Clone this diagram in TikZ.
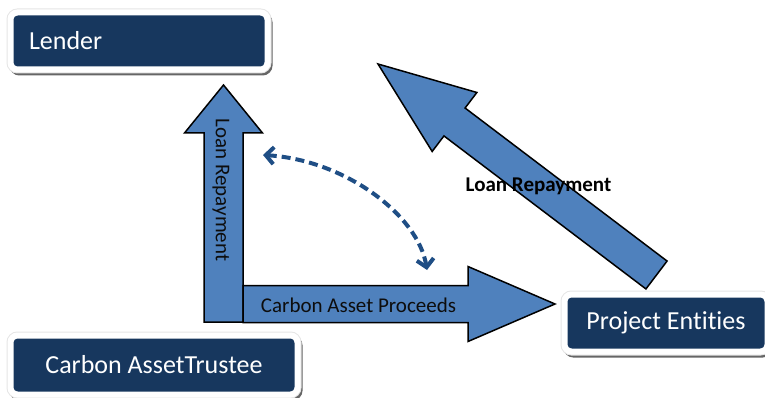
\documentclass[tikz,border=0pt]{standalone}
\usepackage{fontspec}
\setmainfont{Carlito}[Ligatures={NoCommon,NoRare}]
\usepackage{tikz}
\usetikzlibrary{arrows.meta, calc}

\definecolor{boxnavy}{HTML}{17375E}
\definecolor{arrowblue}{HTML}{4F81BD}
\definecolor{dashblue}{HTML}{1F4E85}

% fat arrow: tail, tip, half shaft width, half head width, head length
\newcommand{\blockarrow}[5]{%
  \coordinate (hb) at ($(#2)!#5!(#1)$);
  \draw[bigarrow] ($(#1)!#3!90:(#2)$) -- ($(hb)!#3!90:(#2)$) -- ($(hb)!#4!90:(#2)$) -- (#2)
    -- ($(hb)!#4!-90:(#2)$) -- ($(hb)!#3!-90:(#2)$) -- ($(#1)!#3!-90:(#2)$) -- cycle;
}

\begin{document}
\begin{tikzpicture}[
  x=1pt, y=-1pt,
  entity/.style={rectangle, rounded corners=7pt, fill=boxnavy, draw=white, line width=6pt,
    text=white, font=\fontsize{26}{30}\selectfont, inner sep=0pt,
    preaction={fill=black!60, draw=black!60, line width=6pt, transform canvas={shift={(2,3)}}},
    preaction={draw=black!10, line width=8pt}},
  bigarrow/.style={fill=arrowblue, draw=black, line width=1.5pt, line join=miter},
  flowtext/.style={font=\fontsize{21}{25}\selectfont, text=black!95},
  link/.style={draw=dashblue, line width=4pt, dash pattern=on 9pt off 5pt,
    {Straight Barb[length=8pt,width=17pt]}-{Straight Barb[length=8pt,width=17pt]}}
]
\useasboundingbox (0,0) rectangle (765,398);

% boxes
\node[entity, minimum width=257pt, minimum height=57pt, anchor=north west,
  align=left, text width=220pt, inner xsep=18.5pt] (lender) at (7.5,9.5) {Lender};
\node[entity, minimum width=287pt, minimum height=59pt, anchor=north west] (trustee) at (7.5,332.5) {Carbon AssetTrustee};
\node[entity, minimum width=203pt, minimum height=57pt, anchor=north west] (project) at (561.5,291.5) {Project Entities};

% big arrows
\coordinate (upfoot) at (223.5,322);
\coordinate (uptip) at (223.5,85);
\coordinate (rightfoot) at (243,304);
\coordinate (righttip) at (555,304);
\coordinate (diagfoot) at (656.5,275);
\coordinate (diagtip) at (378,64);

\blockarrow{upfoot}{uptip}{19.5pt}{39pt}{48pt}
\blockarrow{rightfoot}{righttip}{18.5pt}{37.5pt}{87pt}
\blockarrow{diagfoot}{diagtip}{17.5pt}{37pt}{96pt}

\node[flowtext, rotate=-90] (uplabel) at (221,190) {Loan Repayment};
\node[flowtext] (rightlabel) at (358.5,305) {Carbon Asset Proceeds};
\node[flowtext, font=\bfseries\fontsize{21}{25}\selectfont, text=black] (diaglabel) at (538.5,186) {Loan Repayment};

% dashed two-way link
\coordinate (linkA) at (263,155);
\coordinate (linkB) at (427,270);
\draw[link] (linkA) .. controls (345,160) and (418,215) .. (linkB);
\end{tikzpicture}
\end{document}
